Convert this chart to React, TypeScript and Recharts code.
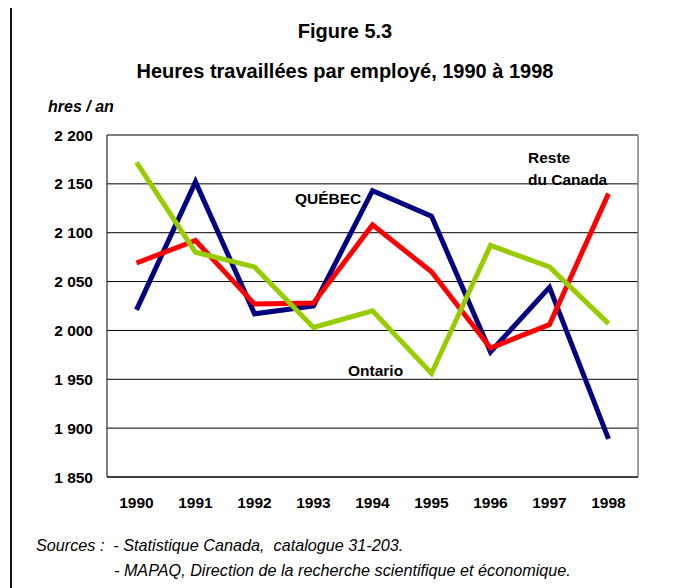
import React from "react";
import { LineChart, Line, XAxis, YAxis, CartesianGrid, ReferenceLine } from "recharts";

// Heures travaillées par employé, 1990 à 1998
const years = ["1990", "1991", "1992", "1993", "1994", "1995", "1996", "1997", "1998"];
const quebec = [2021, 2152, 2017, 2025, 2143, 2117, 1978, 2044, 1889];
const resteCanada = [2069, 2092, 2027, 2028, 2108, 2060, 1982, 2006, 2140];
const ontario = [2172, 2080, 2065, 2003, 2020, 1956, 2087, 2065, 2007];
const yTicks = [1850, 1900, 1950, 2000, 2050, 2100, 2150, 2200];
const yTickLabels = ["1 850", "1 900", "1 950", "2 000", "2 050", "2 100", "2 150", "2 200"];

const data = years.map((year, i) => ({
  i,
  year,
  quebec: quebec[i],
  reste: resteCanada[i],
  ontario: ontario[i],
}));

// bornes des catégories (pour les petits traits de l'axe X)
const edgeTicks = years.map((_, i) => i - 0.5).concat(years.length - 0.5);
const centerTicks = years.map((_, i) => i);

const FONT = "'Liberation Sans', Arial, Helvetica, sans-serif";

const YearTick = ({ x, y, payload }: any) => (
  <text x={x} y={y} dy="0.72em" textAnchor="middle" fill="#000" fontSize={15.5} fontWeight="bold" fontFamily={FONT}>
    {years[payload.value]}
  </text>
);

const ValueTick = ({ x, y, payload }: any) => (
  <text x={x} y={y} dy="0.36em" textAnchor="end" fill="#000" fontSize={15.5} fontWeight="bold" fontFamily={FONT}>
    {yTickLabels[yTicks.indexOf(payload.value)]}
  </text>
);

export default function App() {
  return (
    <div style={{ position: "relative", width: 668, height: 580, fontFamily: FONT }}>
      <LineChart
        width={660}
        height={530}
        data={data}
        margin={{ top: 127, right: 30, left: 39, bottom: 0 }}
        style={{ position: "absolute", left: 0, top: 0 }}
      >
        <CartesianGrid xAxisId="year" horizontal vertical={false} stroke="#000" strokeOpacity={1} />
        <XAxis
          xAxisId="edge"
          type="number"
          dataKey="i"
          domain={[-0.5, 8.5]}
          ticks={edgeTicks}
          tick={false}
          tickSize={6}
          tickLine={{ stroke: "#000" }}
          axisLine={{ stroke: "#000" }}
          height={1}
        />
        <XAxis
          xAxisId="year"
          type="number"
          dataKey="i"
          domain={[-0.5, 8.5]}
          ticks={centerTicks}
          interval={0}
          axisLine={false}
          tickLine={false}
          tickSize={0}
          tickMargin={19}
          height={60}
          tick={<YearTick />}
        />
        <YAxis
          domain={[1850, 2200]}
          ticks={yTicks}
          interval={0}
          axisLine={{ stroke: "#000" }}
          tickLine={false}
          tickSize={0}
          tickMargin={14}
          width={60}
          tick={<ValueTick />}
        />
        <ReferenceLine xAxisId="year" x={8.5} stroke="#808080" strokeWidth={1.5} />
        <Line xAxisId="year" type="linear" dataKey="quebec" stroke="#000080" strokeWidth={5} dot={false} isAnimationActive={false} />
        <Line xAxisId="year" type="linear" dataKey="reste" stroke="#ff0000" strokeWidth={5} dot={false} isAnimationActive={false} />
        <Line xAxisId="year" type="linear" dataKey="ontario" stroke="#99cc00" strokeWidth={5} dot={false} isAnimationActive={false} />
      </LineChart>

      <svg
        width={676}
        height={588}
        style={{ position: "absolute", left: -8, top: -8, pointerEvents: "none", fontFamily: FONT }}
      >
        <line x1={10} y1={7} x2={676} y2={7} stroke="#111" strokeWidth={2} />
        <line x1={11} y1={6} x2={11} y2={588} stroke="#111" strokeWidth={2} />

        <text x={345} y={38} textAnchor="middle" fontSize={20} fontWeight="bold">Figure 5.3</text>
        <text x={345} y={78} textAnchor="middle" fontSize={20} fontWeight="bold">
          Heures travaillées par employé, 1990 à 1998
        </text>
        <text x={48} y={112} fontSize={16} fontWeight="bold" fontStyle="italic">hres / an</text>

        <text x={295} y={204} fontSize={15.5} fontWeight="bold">QUÉBEC</text>
        <text x={528} y={163} fontSize={15.5} fontWeight="bold">Reste</text>
        <text x={528} y={185} fontSize={15.5} fontWeight="bold">du Canada</text>
        <text x={348} y={376} fontSize={15.5} fontWeight="bold">Ontario</text>

        <text x={36} y={551} fontSize={16.2} fontStyle="italic" style={{ whiteSpace: "pre" }}>
          {"Sources :  - Statistique Canada,  catalogue 31-203."}
        </text>
        <text x={114} y={576} fontSize={16.2} fontStyle="italic" style={{ whiteSpace: "pre" }}>
          {"- MAPAQ, Direction de la recherche scientifique et économique."}
        </text>
      </svg>
    </div>
  );
}
